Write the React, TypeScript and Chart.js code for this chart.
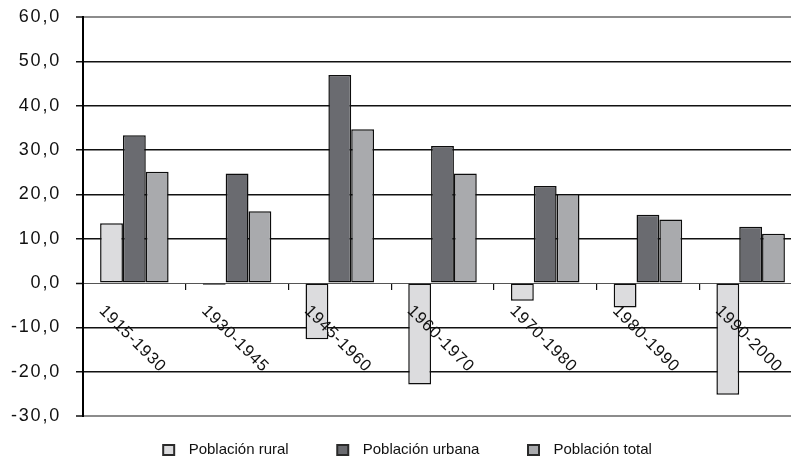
import React, { useEffect, useRef } from "react";
import { Chart, registerables } from "chart.js";

Chart.register(...registerables);

const categories = ["1915-1930", "1930-1945", "1945-1960", "1960-1970", "1970-1980", "1980-1990", "1990-2000"];
const seriesNames = ["Población rural", "Población urbana", "Población total"];
const rural = [13.5, -0.4, -12.7, -22.9, -4.0, -5.5, -25.2];
const urbana = [33.3, 24.7, 46.9, 30.9, 21.9, 15.4, 12.7];
const total = [25.1, 16.2, 34.7, 24.7, 20.1, 14.3, 11.1];
const yMin = -30;
const yMax = 60;
const yStep = 10;

const FONT = "'Liberation Sans', Arial, sans-serif";
const colors = ["#dcdcde", "#6a6b70", "#a9aaad"];

function makeLegendSwatch(color: string) {
  const L = 21, B = 13, R = 6, H = 12;
  const c = document.createElement("canvas");
  c.width = L + B + R;
  c.height = H;
  const g = c.getContext("2d")!;
  g.fillStyle = "#2a2a2a";
  g.fillRect(L, 0, B, H);
  g.fillStyle = color;
  g.fillRect(L + 2, 2, B - 4, H - 4);
  return c;
}

const labelPlugin = {
  id: "customLabels",
  afterDatasetsDraw(chart: any) {
    (chart.ctx as any).letterSpacing = "1.8px";
  },
  afterDraw(chart: any) {
    const ctx = chart.ctx;
    const xs = chart.scales.x;
    const ys = chart.scales.y;
    const y0 = ys.getPixelForValue(0);
    ctx.save();
    (ctx as any).letterSpacing = "0.9px";
    ctx.font = `16.5px ${FONT}`;
    ctx.fillStyle = "#111";
    ctx.textAlign = "center";
    ctx.textBaseline = "middle";
    categories.forEach((c, i) => {
      ctx.save();
      ctx.translate(xs.getPixelForValue(i) - 2, y0 + 56);
      ctx.rotate(Math.PI / 4);
      ctx.fillText(c, 0, 0);
      ctx.restore();
    });
    ctx.restore();
    (ctx as any).letterSpacing = "0px";
  },
};

export default function App() {
  const ref = useRef<HTMLCanvasElement | null>(null);

  useEffect(() => {
    if (!ref.current) return;
    const swatches = colors.map((c) => makeLegendSwatch(c));
    const values = [rural, urbana, total];
    const chart = new Chart(ref.current, {
      type: "bar",
      data: {
        labels: categories,
        datasets: seriesNames.map((name, i) => ({
          label: name,
          data: values[i],
          backgroundColor: colors[i],
          borderColor: "#0d0d0d",
          borderWidth: 1.5,
          borderSkipped: false,
          categoryPercentage: 0.667,
          barPercentage: 1,
        })),
      },
      options: {
        responsive: false,
        animation: false,
        devicePixelRatio: 1,
        layout: { padding: { left: 0, right: 4, top: 17, bottom: 0 } },
        plugins: {
          tooltip: { enabled: false },
          legend: {
            position: "bottom",
            maxHeight: 43,
            labels: {
              usePointStyle: true,
              pointStyleWidth: 40,
              boxHeight: 12,
              padding: 26.5,
              color: "#111",
              font: { size: 15, family: FONT },
              generateLabels: (ch: any) => {
                const items = (Chart as any).defaults.plugins.legend.labels.generateLabels(ch);
                return items.map((it: any, i: number) => ({ ...it, pointStyle: swatches[i] }));
              },
            },
          },
        },
        scales: {
          x: {
            type: "category",
            position: { y: 0 } as any,
            offset: true,
            ticks: { display: false },
            border: { display: false },
            grid: {
              offset: true,
              drawOnChartArea: false,
              drawTicks: true,
              tickLength: 7,
              tickColor: "#111",
              lineWidth: 1.2,
            },
          },
          y: {
            type: "linear",
            position: "left",
            min: yMin,
            max: yMax,
            afterFit: (s: any) => {
              s.width = 92;
              s.paddingTop = 0;
              s.paddingBottom = 0;
            },
            ticks: {
              stepSize: yStep,
              padding: 15,
              color: "#111",
              z: 1,
              font: { size: 18, family: FONT },
              callback: (v: any) => Number(v).toFixed(1).replace(".", ","),
            },
            border: { display: true, color: "#000", width: 2 },
            grid: {
              drawTicks: true,
              tickLength: 7,
              tickColor: "#111",
              tickWidth: 1.5,
              color: (c: any) => {
                const v = c.tick ? c.tick.value : 0;
                if (v === yMax || v === yMin) return "#8c8c8c";
                if (v === 0) return "#555";
                return "#111";
              },
              lineWidth: (c: any) => {
                const v = c.tick ? c.tick.value : 0;
                if (v === yMax || v === yMin) return 2;
                if (v === 0) return 1;
                return 1.5;
              },
            },
          },
        },
      },
      plugins: [labelPlugin],
    } as any);
    return () => chart.destroy();
  }, []);

  return (
    <div
      style={{
        position: "fixed",
        left: 0,
        top: 0,
        width: 791,
        height: 459,
        overflow: "hidden",
        background: "#fff",
      }}
    >
      <canvas
        ref={ref}
        width={815}
        height={459}
        style={{ position: "absolute", left: -9, top: 0, width: 815, height: 459 }}
      />
    </div>
  );
}
